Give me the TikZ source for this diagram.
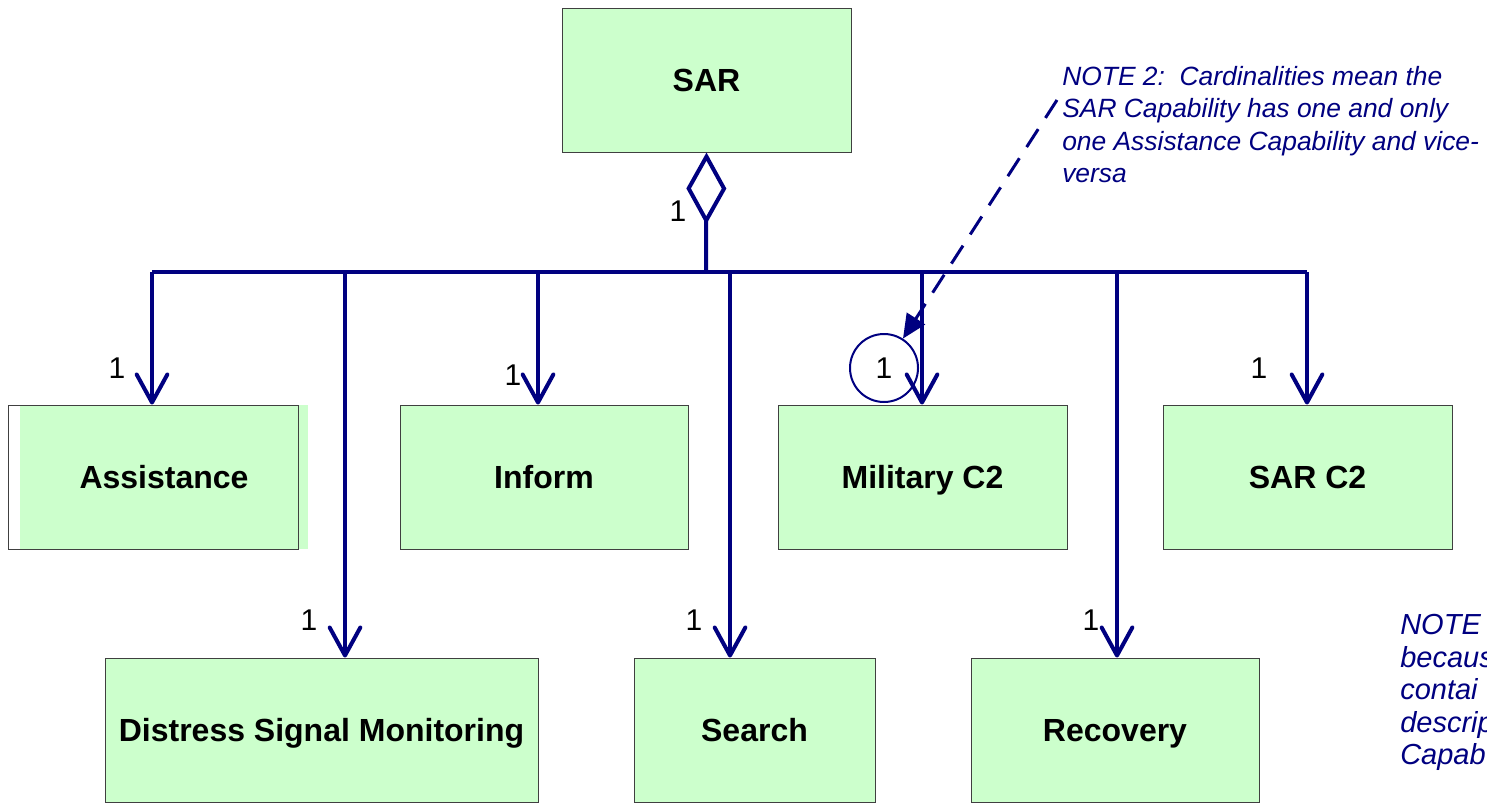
\documentclass[tikz,border=0pt]{standalone}
\usepackage{fontspec}
\setmainfont{Liberation Sans}
\setsansfont{Liberation Sans}
\usetikzlibrary{arrows.meta}
\definecolor{umlnavy}{RGB}{0,0,128}
\definecolor{capgreen}{RGB}{204,255,204}
\tikzset{
  capbox/.style={draw=black!75,fill=capgreen,line width=0.75pt,inner sep=0pt,
    minimum height=108pt,text height=17.2pt,text depth=0pt,
    font=\sffamily\bfseries\fontsize{24}{28}\selectfont},
  link/.style={draw=umlnavy,line width=3pt},
  card/.style={font=\sffamily\fontsize{22.5}{26}\selectfont,inner sep=0pt},
  notetext/.style={font=\sffamily\itshape\fontsize{19.8}{24.4}\selectfont,
    text=umlnavy,align=left,inner sep=0pt},
}
\begin{document}
\begin{tikzpicture}[x=0.75pt,y=-0.75pt]
\path[use as bounding box,clip] (0,0) rectangle (1487,803);
% capabilities
\node[capbox,minimum width=216.75pt] (sar) at (706.5,80) {SAR};
\node[capbox,draw=none,minimum width=216pt] (asst) at (164,477) {Assistance};
\draw[black!75,line width=0.75pt] (8,405) rectangle (298,549); % border sits off the fill here
\node[capbox,minimum width=216pt] (inform) at (544,477) {Inform};
\node[capbox,minimum width=216.75pt] (milc2) at (922.5,477) {Military C2};
\node[capbox,minimum width=216.75pt] (sarc2) at (1307.5,477) {SAR C2};
\node[capbox,minimum width=324.75pt] (dsm) at (321.5,730) {Distress Signal Monitoring};
\node[capbox,minimum width=180.75pt] (search) at (754.5,730) {Search};
\node[capbox,minimum width=216pt] (recov) at (1115,730) {Recovery};
\node[card,circle,draw=umlnavy,line width=1.5pt,minimum size=51pt] (mark) at (884,368) {1};
% aggregation tree
\coordinate (hub) at (706,272);
\foreach \b/\x in {b1/152,b2/345,b3/538,b4/730,b5/922,b6/1117,b7/1307}
  \coordinate (\b) at (\x,272);
\draw[link,{Diamond[open,length=54pt,width=30pt]}-] (sar.south) -- (hub);
\draw[link] (b1) -- (b7);
\foreach \b/\n in {b1/asst,b2/dsm,b3/inform,b4/search,b5/milc2,b6/recov,b7/sarc2}
  \draw[link,-{Straight Barb[length=21pt,width=23pt,round]}] (\b) -- (\b |- \n.north);
% cardinalities
\foreach \n/\x/\y in {d/678/211,a/117/368,i/513/375,s/1259/368,m/309/620,r/694/620,v/1091/620}
  \node[card] (one\n) at (\x,\y) {1};
% notes
\node[notetext,anchor=north west] (note2) at (1062,66)
  {NOTE 2:\ \ Cardinalities mean the\\SAR Capability has one and only\\one Assistance Capability and vice-\\versa};
\coordinate (nfoot) at (1057,100);
\draw[umlnavy,line width=2.25pt,dash pattern=on 16pt off 10pt,-{Triangle[length=18pt,width=16pt]}] (nfoot) -- (mark);
\node[notetext,font=\sffamily\itshape\fontsize{21.75}{24.4}\selectfont,anchor=north west] (note1) at (1400,614)
  {NOTE\\becaus\\contai\\descrip\\Capab};
\end{tikzpicture}
\end{document}
